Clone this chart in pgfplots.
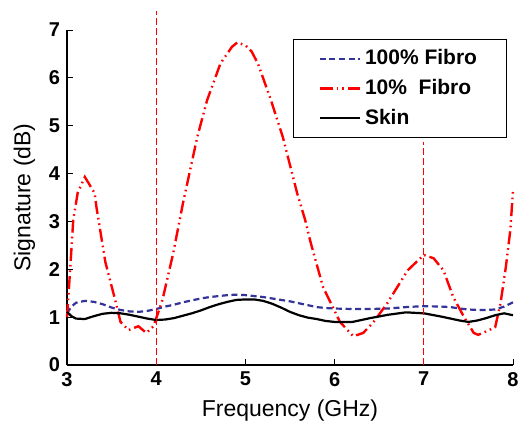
\documentclass[border=0pt]{standalone}
\usepackage{fontspec}
\setmainfont{Liberation Sans}
\usepackage{pgfplots}
\pgfplotsset{compat=1.18}
\definecolor{fibroblue}{rgb}{0.2,0.2,0.6}
\begin{document}
\begin{tikzpicture}
\begin{axis}[
  name=ax,
  scale only axis,
  width=223pt, height=167.5pt,
  xmin=3, xmax=8, ymin=0, ymax=7,
  axis lines*=left,
  axis line style={line width=0.6pt},
  tick align=inside,
  tick style={black, line width=0.5pt},
  major tick length=3pt,
  xtick={3,4,5,6,7,8},
  ytick={0,1,2,3,4,5,6,7},
  /pgf/number format/assume math mode=true,
  ticklabel style={font=\bfseries\fontsize{10}{12}\selectfont},
  label style={font=\fontsize{11.5}{13}\selectfont},
  xlabel={Frequency (GHz)},
  ylabel={Signature (dB)},
  clip=false,
  legend cell align=left,
  legend style={at={(0.507,0.973)}, anchor=north west, draw=black, fill=white,
    line width=0.5pt,
    font=\bfseries\fontsize{10.5}{12}\selectfont, inner xsep=12.5pt, inner ysep=3pt,
    row sep=1.8pt},
  legend image code/.code={\draw[#1] (0pt,0pt) -- (20pt,0pt);},
]
\addplot[fibroblue, line width=1.1pt, dash pattern=on 3pt off 1.8pt] coordinates {
(3.00,1.08)(3.05,1.22)(3.10,1.30)(3.20,1.34)(3.30,1.32)(3.40,1.27)(3.50,1.20)(3.60,1.15)(3.70,1.12)(3.80,1.11)(3.90,1.13)(4.00,1.17)(4.10,1.22)(4.20,1.26)(4.30,1.31)(4.40,1.35)(4.50,1.39)(4.60,1.42)(4.70,1.44)(4.80,1.46)(4.90,1.47)(5.00,1.46)(5.10,1.44)(5.20,1.42)(5.30,1.39)(5.40,1.36)(5.50,1.33)(5.60,1.29)(5.70,1.25)(5.80,1.21)(5.90,1.19)(6.00,1.18)(6.20,1.17)(6.40,1.17)(6.60,1.18)(6.80,1.21)(7.00,1.23)(7.20,1.22)(7.30,1.21)(7.40,1.18)(7.50,1.16)(7.60,1.15)(7.70,1.15)(7.80,1.16)(7.90,1.22)(8.00,1.31)
};
\addlegendentry{100\% Fibro}
\addplot[red, line width=1.2pt, dash pattern=on 6.5pt off 2pt on 0.8pt off 2pt on 0.8pt off 2pt] coordinates {
(3.00,1.00)(3.03,1.84)(3.07,3.03)(3.12,3.60)(3.20,3.93)(3.31,3.59)(3.33,3.30)(3.43,2.15)(3.54,1.36)(3.60,0.90)(3.69,0.73)(3.80,0.81)(3.89,0.67)(3.97,0.81)(4.07,1.36)(4.19,2.33)(4.30,3.38)(4.46,4.76)(4.57,5.53)(4.72,6.30)(4.85,6.65)(4.91,6.74)(5.00,6.68)(5.07,6.55)(5.14,6.30)(5.28,5.57)(5.42,4.76)(5.58,3.59)(5.67,3.03)(5.73,2.57)(5.87,1.63)(6.06,0.90)(6.21,0.60)(6.32,0.67)(6.43,0.88)(6.59,1.29)(6.82,1.98)(7.00,2.30)(7.11,2.23)(7.22,1.98)(7.33,1.42)(7.44,1.04)(7.56,0.67)(7.61,0.63)(7.71,0.71)(7.80,0.79)(7.86,1.29)(7.92,2.05)(7.97,2.82)(8.00,3.65)
};
\addlegendentry{10\%\ \ Fibro}
\addplot[black, line width=1.1pt] coordinates {
(3.00,1.11)(3.05,1.02)(3.10,0.97)(3.20,0.96)(3.30,1.02)(3.40,1.07)(3.50,1.09)(3.60,1.08)(3.70,1.05)(3.80,1.01)(3.90,0.97)(4.00,0.94)(4.10,0.95)(4.20,0.98)(4.30,1.03)(4.40,1.08)(4.50,1.14)(4.60,1.21)(4.70,1.27)(4.80,1.32)(4.90,1.36)(5.00,1.37)(5.10,1.37)(5.20,1.34)(5.30,1.28)(5.40,1.20)(5.50,1.11)(5.60,1.04)(5.70,0.99)(5.80,0.96)(5.90,0.92)(6.00,0.90)(6.20,0.90)(6.40,0.98)(6.60,1.05)(6.80,1.10)(7.00,1.08)(7.20,1.01)(7.40,0.93)(7.50,0.90)(7.60,0.93)(7.70,0.98)(7.80,1.04)(7.90,1.08)(8.00,1.04)
};
\addlegendentry{Skin}
\addplot[red, line width=0.5pt, dash pattern=on 3.5pt off 1.5pt, forget plot] coordinates {(4,0)(4,7.4)};
\addplot[red, line width=0.5pt, dash pattern=on 3.5pt off 1.5pt, forget plot] coordinates {(7,0)(7,4.65)};
\end{axis}
\pgfresetboundingbox
\path[use as bounding box] ([xshift=-33.5pt,yshift=-30.5pt]ax.south west) rectangle ([xshift=2.5pt,yshift=15pt]ax.north east);
\end{tikzpicture}
\end{document}
